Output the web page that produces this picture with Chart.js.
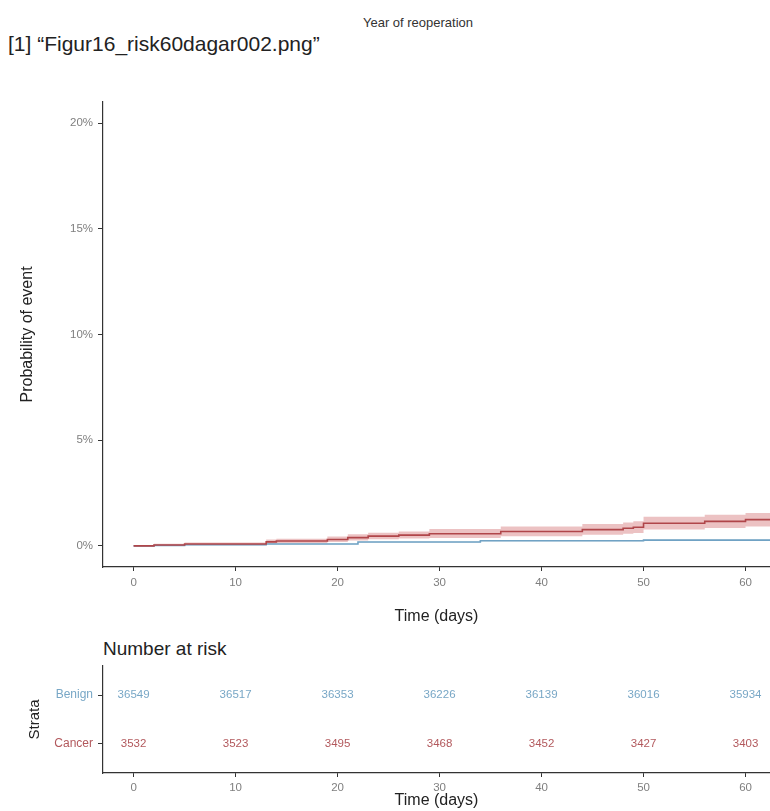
<!DOCTYPE html>
<html>
<head>
<meta charset="utf-8">
<script src="https://cdn.jsdelivr.net/npm/chart.js@4"></script>
<style>
  body { margin: 0; background: #fff; font-family: 'Liberation Sans', Arial, sans-serif; }
  #page { position: relative; width: 770px; height: 811px; overflow: hidden; background: #fff; }
  .txt { position: absolute; white-space: nowrap; }
  #heading { left: 418px; top: 16px; font-size: 13px; line-height: 13px; color: #333; transform: translateX(-50%); }
  #fileLine { left: 8px; top: 33px; font-size: 21px; line-height: 21px; color: #222; }
  #riskTitle { left: 103px; top: 639px; font-size: 19px; line-height: 19px; color: #222; }
  #mainChart { position: absolute; left: 0; top: 90px; }
  #riskChart { position: absolute; left: 0; top: 630px; }
</style>
</head>
<body>
<div id="page">
  <div class="txt" id="heading">Year of reoperation</div>
  <div class="txt" id="fileLine">[1] “Figur16_risk60dagar002.png”</div>
  <canvas id="mainChart" width="770" height="540"></canvas>
  <div class="txt" id="riskTitle">Number at risk</div>
  <canvas id="riskChart" width="770" height="181"></canvas>
</div>
<script>
// cumulative incidence (%), step times in days
const cancerTimes = [0, 2, 5, 13, 14, 19, 21, 23, 26, 29, 36, 44, 48, 49, 50, 56, 60, 63];
const cancerRisk  = [0, 0.04, 0.09, 0.19, 0.23, 0.30, 0.39, 0.46, 0.51, 0.57, 0.68, 0.77, 0.83, 0.88, 1.07, 1.16, 1.24, 1.24];
const cancerLower = [0, 0.00, 0.03, 0.10, 0.12, 0.18, 0.25, 0.31, 0.35, 0.37, 0.46, 0.52, 0.57, 0.61, 0.77, 0.85, 0.92, 0.92];
const cancerUpper = [0, 0.10, 0.16, 0.30, 0.34, 0.44, 0.55, 0.62, 0.68, 0.80, 0.92, 1.03, 1.10, 1.16, 1.38, 1.47, 1.56, 1.56];

const benignTimes = [0, 2, 5, 13, 22, 34, 50, 63];
const benignRisk  = [0, 0.02, 0.05, 0.09, 0.18, 0.24, 0.27, 0.27];
const benignLower = [0, 0.01, 0.03, 0.07, 0.15, 0.21, 0.24, 0.24];
const benignUpper = [0, 0.03, 0.07, 0.11, 0.21, 0.27, 0.30, 0.30];

// number at risk table
const timeTicks = [0, 10, 20, 30, 40, 50, 60];
const strata = ['Benign', 'Cancer'];
const atRiskBenign = [36549, 36517, 36353, 36226, 36139, 36016, 35934];
const atRiskCancer = [3532, 3523, 3495, 3468, 3452, 3427, 3403];

const pctTicks = [0, 5, 10, 15, 20];

const RED = 'rgb(176,70,74)';
const RED_BAND = 'rgba(210,110,112,0.42)';
const BLUE = 'rgb(112,162,196)';
const BLUE_BAND = 'rgba(112,162,196,0.25)';
const BLUE_TXT = '#78a7c6';
const RED_TXT = '#b2585c';
const AXIS = '#333';
const TICK_TXT = '#7f7f7f';
const FONT = 'Liberation Sans';

const pts = (xs, ys) => xs.map((x, i) => ({ x: x, y: ys[i] }));

function band(data, fill, color, order) {
  return {
    data: data, stepped: true, borderWidth: 0, pointRadius: 0,
    backgroundColor: color, fill: fill, order: order
  };
}

function xAxis(height, pad, titlePad) {
  return {
    type: 'linear', min: -3, max: 62.4,
    afterBuildTicks: s => { s.ticks = timeTicks.map(v => ({ value: v })); },
    afterFit: s => { s.height = height; },
    grid: { drawOnChartArea: false, tickLength: 4, color: AXIS },
    border: { color: AXIS, width: 1.2 },
    ticks: { padding: pad, color: TICK_TXT, font: { family: FONT, size: 11.5 }, maxRotation: 0 },
    title: { display: true, text: 'Time (days)', color: '#222', font: { family: FONT, size: 16 }, padding: { top: 0, bottom: titlePad } }
  };
}

const mainChart = new Chart(document.getElementById('mainChart').getContext('2d'), {
  type: 'line',
  data: {
    datasets: [
      band(pts(cancerTimes, cancerUpper), false, RED_BAND, 3),
      band(pts(cancerTimes, cancerLower), '-1', RED_BAND, 3),
      band(pts(benignTimes, benignUpper), false, BLUE_BAND, 2),
      band(pts(benignTimes, benignLower), '-1', BLUE_BAND, 2),
      { label: 'Benign', data: pts(benignTimes, benignRisk), stepped: true, borderColor: BLUE, borderWidth: 1.6, pointRadius: 0, fill: false, order: 1 },
      { label: 'Cancer', data: pts(cancerTimes, cancerRisk), stepped: true, borderColor: RED, borderWidth: 1.6, pointRadius: 0, fill: false, order: 0 }
    ]
  },
  options: {
    responsive: false,
    animation: false,
    layout: { padding: { top: 10, right: 0, bottom: 0, left: 0 } },
    plugins: { legend: { display: false }, tooltip: { enabled: false } },
    scales: {
      x: xAxis(63, 5, 4),
      y: {
        min: -1, max: 21,
        afterBuildTicks: s => { s.ticks = pctTicks.map(v => ({ value: v })); },
        afterFit: s => { s.width = 103; },
        grid: { drawOnChartArea: false, tickLength: 5, color: AXIS },
        border: { color: AXIS, width: 1.2 },
        ticks: { padding: 5, color: TICK_TXT, font: { family: FONT, size: 11.5 }, callback: v => v + '%' },
        title: { display: true, text: 'Probability of event', color: '#222', font: { family: FONT, size: 16 }, padding: { top: 18, bottom: 0 } }
      }
    }
  }
});

// writes the at-risk counts at each point position
const riskLabels = {
  id: 'riskLabels',
  afterDatasetsDraw(chart) {
    const ctx = chart.ctx;
    ctx.save();
    ctx.font = '11.5px ' + FONT;
    ctx.textAlign = 'center';
    ctx.textBaseline = 'middle';
    chart.data.datasets.forEach((ds, i) => {
      const meta = chart.getDatasetMeta(i);
      ctx.fillStyle = ds.textColor;
      meta.data.forEach((pt, j) => {
        ctx.fillText(String(ds.counts[j]), pt.x, pt.y);
      });
    });
    ctx.restore();
  }
};

const riskChart = new Chart(document.getElementById('riskChart').getContext('2d'), {
  type: 'scatter',
  data: {
    datasets: [
      { label: 'Benign', data: timeTicks.map(t => ({ x: t, y: 1 })), counts: atRiskBenign, textColor: BLUE_TXT, pointRadius: 0 },
      { label: 'Cancer', data: timeTicks.map(t => ({ x: t, y: 2 })), counts: atRiskCancer, textColor: RED_TXT, pointRadius: 0 }
    ]
  },
  options: {
    responsive: false,
    animation: false,
    layout: { padding: { top: 36, right: 0, bottom: 0, left: 0 } },
    plugins: { legend: { display: false }, tooltip: { enabled: false } },
    scales: {
      x: xAxis(38, 3.5, 1),
      y: {
        min: 0.4, max: 2.6, reverse: true,
        afterBuildTicks: s => { s.ticks = [1, 2].map(v => ({ value: v })); },
        afterFit: s => { s.width = 103; },
        grid: { drawOnChartArea: false, tickLength: 5, color: AXIS },
        border: { color: AXIS, width: 1.2 },
        ticks: {
          padding: 5,
          font: { family: FONT, size: 12 },
          color: c => (c.tick && c.tick.value === 2) ? RED_TXT : BLUE_TXT,
          callback: v => strata[v - 1]
        },
        title: { display: true, text: 'Strata', color: '#222', font: { family: FONT, size: 15 }, padding: { top: 26, bottom: 0 } }
      }
    }
  },
  plugins: [riskLabels]
});
</script>
</body>
</html>
